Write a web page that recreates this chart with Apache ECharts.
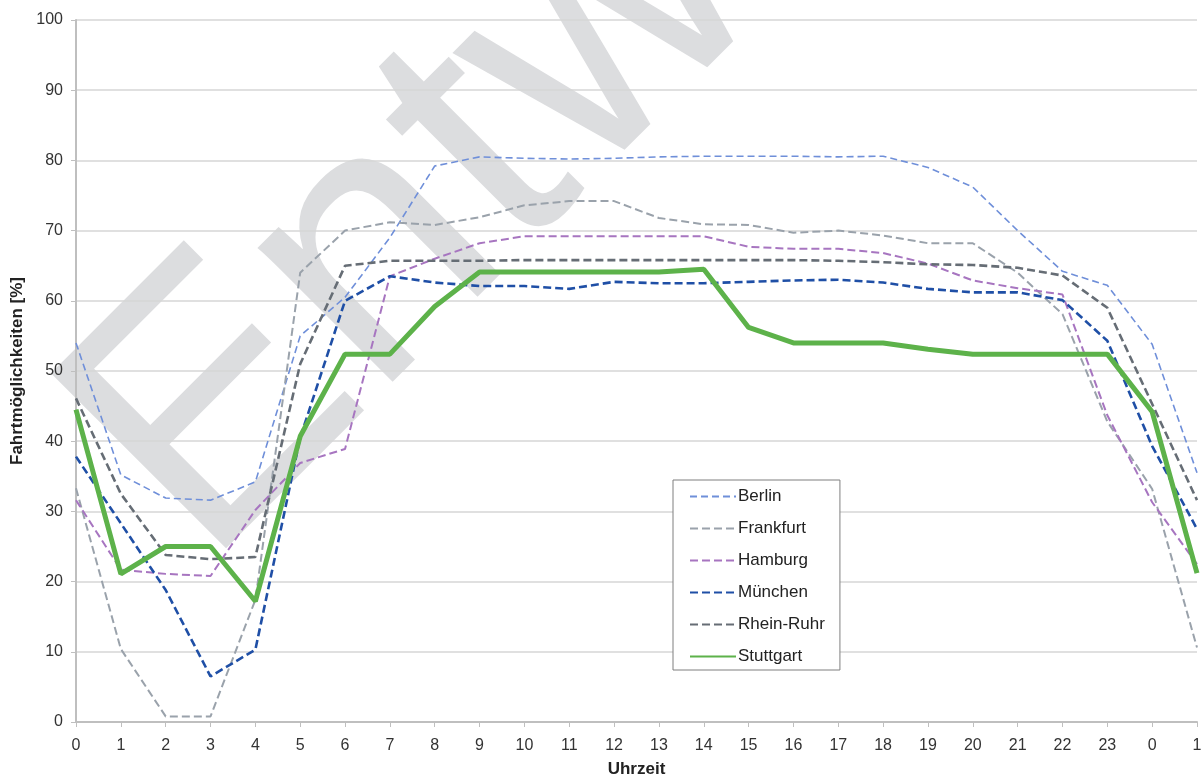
<!DOCTYPE html>
<html>
<head>
<meta charset="utf-8">
<script src="https://cdn.jsdelivr.net/npm/echarts@6/dist/echarts.min.js"></script>
<style>
html,body{margin:0;padding:0;background:#fff;}
#chart{width:1203px;height:778px;}
</style>
</head>
<body>
<div id="chart"></div>
<script>
const hours = ['0','1','2','3','4','5','6','7','8','9','10','11','12','13','14','15','16','17','18','19','20','21','22','23','0','1'];
const yTicks = [0,10,20,30,40,50,60,70,80,90,100];
const seriesNames = ['Berlin','Frankfurt','Hamburg','München','Rhein-Ruhr','Stuttgart'];
const berlin    = [54.0,35.2,31.9,31.6,34.2,55.0,60.5,69.0,79.2,80.5,80.3,80.2,80.3,80.5,80.6,80.6,80.6,80.5,80.6,79.0,76.2,70.0,64.2,62.2,53.8,35.5];
const frankfurt = [33.3,10.4,0.8,0.8,17.4,64.0,70.0,71.2,70.8,71.9,73.6,74.2,74.2,71.8,70.9,70.8,69.7,70.0,69.3,68.2,68.2,64.0,58.1,42.8,33.2,10.6];
const hamburg   = [31.6,21.7,21.1,20.8,30.2,36.9,38.9,63.5,66.0,68.2,69.2,69.2,69.2,69.2,69.2,67.7,67.4,67.4,66.8,65.3,62.9,61.8,60.9,43.7,31.3,22.5];
const muenchen  = [37.8,28.3,18.8,6.5,10.3,40.5,60.0,63.5,62.6,62.1,62.1,61.7,62.7,62.5,62.5,62.7,62.9,63.0,62.6,61.7,61.2,61.2,60.1,54.3,39.3,27.5];
const rheinruhr = [46.1,32.5,23.8,23.2,23.5,51.0,65.0,65.7,65.7,65.7,65.8,65.8,65.8,65.8,65.8,65.8,65.8,65.7,65.5,65.2,65.1,64.7,63.6,59.0,45.3,31.6];
const stuttgart = [44.5,21.1,25.0,25.0,17.2,40.7,52.4,52.4,59.2,64.1,64.1,64.1,64.1,64.1,64.5,56.2,54.0,54.0,54.0,53.1,52.4,52.4,52.4,52.4,44.2,21.2];
const watermark = 'Entwurf';

const chart = echarts.init(document.getElementById('chart'), null, {renderer:'canvas'});
const font = '"Liberation Sans", Arial, sans-serif';

function dashed(name, data, color, width, dash){
  return {
    name, type:'line', data, symbol:'none', smooth:false, z:3,
    lineStyle:{color, width, type:dash},
    itemStyle:{color},
    emphasis:{disabled:true}
  };
}

chart.setOption({
  animation:false,
  backgroundColor:'#ffffff',
  textStyle:{fontFamily:font},
  graphic:[{
    type:'text', z:-10, silent:true,
    x:135, y:499, rotation:Math.PI/4,
    style:{text:watermark, font:'360px "Liberation Sans", Arial, sans-serif', fill:'#dcdddf', align:'left', verticalAlign:'middle'}
  }],
  grid:{left:76, right:6, top:20, bottom:56, containLabel:false, outerBoundsMode:'none'},
  legend:{
    orient:'vertical', left:673, top:480,
    padding:[8,15,5,16], itemGap:15, itemWidth:46, itemHeight:14,
    backgroundColor:'#ffffff', borderColor:'#7f7f7f', borderWidth:1,
    itemStyle:{opacity:0},
    textStyle:{fontSize:17, color:'#222', fontFamily:font, padding:[0,0,0,-3]},
    data:seriesNames
  },
  xAxis:{
    type:'category', data:hours, boundaryGap:false,
    name:'Uhrzeit', nameLocation:'middle', nameGap:39,
    nameTextStyle:{fontWeight:'bold', fontSize:17, color:'#222'},
    axisLine:{lineStyle:{color:'#bfbfbf', width:2}},
    axisTick:{show:true, alignWithLabel:true, length:5, lineStyle:{color:'#bfbfbf'}},
    axisLabel:{fontSize:16, color:'#333', margin:16, interval:0},
    splitLine:{show:false}
  },
  yAxis:{
    type:'value', min:yTicks[0], max:yTicks[yTicks.length-1], interval:10,
    name:'Fahrtmöglichkeiten [%]', nameLocation:'middle', nameGap:44, nameRotate:90,
    nameTextStyle:{fontWeight:'bold', fontSize:17, color:'#222'},
    axisLine:{show:true, lineStyle:{color:'#bfbfbf', width:2}},
    axisTick:{show:true, length:5, lineStyle:{color:'#bfbfbf'}},
    axisLabel:{fontSize:16, color:'#333', margin:13},
    splitLine:{show:true, lineStyle:{color:'#d6d6d6', width:1.5}}
  },
  series:[
    dashed('Berlin', berlin, '#6f8fd9', 1.6, [7,4]),
    dashed('Frankfurt', frankfurt, '#9aa2ab', 2, [8,4]),
    dashed('Hamburg', hamburg, '#a775c0', 2, [8,4]),
    dashed('München', muenchen, '#1f4fa6', 2.6, [8,4]),
    dashed('Rhein-Ruhr', rheinruhr, '#666d75', 2.6, [8,4]),
    {name:'Stuttgart', type:'line', data:stuttgart, symbol:'none', z:4,
     lineStyle:{color:'#5db24a', width:5}, itemStyle:{color:'#5db24a'}, emphasis:{disabled:true}}
  ]
});
</script>
</body>
</html>
